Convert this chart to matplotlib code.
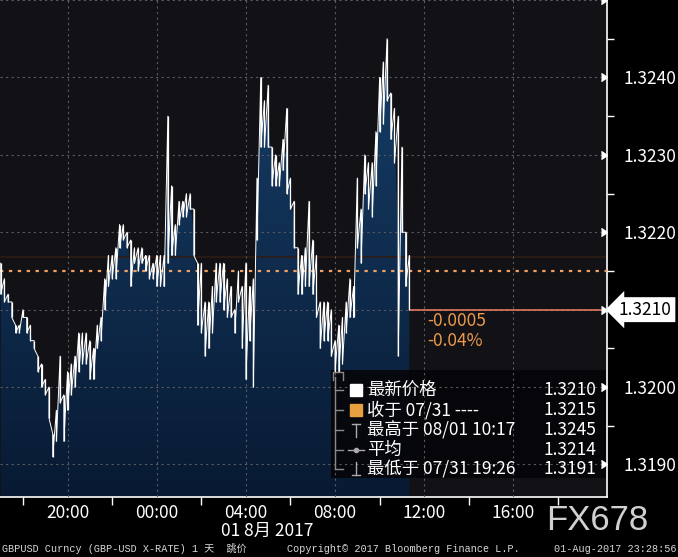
import numpy as np
import matplotlib.pyplot as plt
from matplotlib.colors import LinearSegmentedColormap
from matplotlib.patches import Rectangle, Polygon

plt.rcParams['font.family'] = ['Noto Sans CJK SC', 'DejaVu Sans']

# 10-minute high/low bins, hours relative to 2017-08-01 00:00, starting 07/31 17:00
start_hour = -7.0
bin_hours = 1 / 6

highs = [1.3216, 1.3214, 1.3212, 1.3211, 1.3208, 1.3208, 1.3210, 1.3209, 1.3208, 1.3206,
         1.3204, 1.3203, 1.3201, 1.3200, 1.3194, 1.3197, 1.3204, 1.3199, 1.3202, 1.3203,
         1.3204, 1.3207, 1.3207, 1.3207, 1.3206, 1.3205, 1.3208, 1.3209, 1.3214, 1.3217,
         1.3217, 1.3218, 1.3221, 1.3221, 1.3220, 1.3219, 1.3218, 1.3218, 1.3218, 1.3217,
         1.3217, 1.3216, 1.3217, 1.3217, 1.3217, 1.3235, 1.3226, 1.3221, 1.3224, 1.3224,
         1.3225, 1.3225, 1.3223, 1.3216, 1.3216, 1.3211, 1.3211, 1.3213, 1.3216, 1.3216,
         1.3216, 1.3214, 1.3213, 1.3210, 1.3215, 1.3213, 1.3216, 1.3213, 1.3214, 1.3227,
         1.3240, 1.3237, 1.3239, 1.3231, 1.3230, 1.3229, 1.3232, 1.3236, 1.3227, 1.3224,
         1.3218, 1.3217, 1.3218, 1.3224, 1.3219, 1.3217, 1.3211, 1.3211, 1.3211, 1.3210,
         1.3206, 1.3208, 1.3209, 1.3211, 1.3214, 1.3213, 1.3227, 1.3223, 1.3230, 1.3229,
         1.3229, 1.3233, 1.3240, 1.3242, 1.3245, 1.3238, 1.3236, 1.3235, 1.3231, 1.3220,
         1.3217]
lows = [1.3212, 1.3211, 1.3211, 1.3209, 1.3207, 1.3207, 1.3209, 1.3207, 1.3206, 1.3205,
        1.3202, 1.3200, 1.3199, 1.3196, 1.3191, 1.3193, 1.3198, 1.3193, 1.3197, 1.3199,
        1.3200, 1.3202, 1.3203, 1.3203, 1.3201, 1.3201, 1.3205, 1.3206, 1.3210, 1.3213,
        1.3214, 1.3214, 1.3218, 1.3219, 1.3218, 1.3213, 1.3216, 1.3215, 1.3216, 1.3215,
        1.3214, 1.3214, 1.3213, 1.3213, 1.3213, 1.3216, 1.3217, 1.3217, 1.3221, 1.3222,
        1.3222, 1.3223, 1.3217, 1.3208, 1.3207, 1.3204, 1.3205, 1.3207, 1.3211, 1.3211,
        1.3210, 1.3209, 1.3209, 1.3207, 1.3211, 1.3205, 1.3201, 1.3206, 1.3200, 1.3219,
        1.3231, 1.3231, 1.3231, 1.3226, 1.3226, 1.3226, 1.3228, 1.3225, 1.3223, 1.3218,
        1.3212, 1.3212, 1.3213, 1.3213, 1.3212, 1.3209, 1.3205, 1.3206, 1.3206, 1.3204,
        1.3202, 1.3202, 1.3203, 1.3207, 1.3209, 1.3209, 1.3218, 1.3216, 1.3225, 1.3223,
        1.3222, 1.3226, 1.3233, 1.3234, 1.3237, 1.3232, 1.3229, 1.3204, 1.3220, 1.3213,
        1.3210]

last_price = 1.3210
prev_close = 1.3215
avg_price = 1.3214
high_time = "08/01 10:17"
low_time = "07/31 19:26"

x_ticks = [-4, 0, 4, 8, 12, 16]
x_labels = ["20:00", "00:00", "04:00", "08:00", "12:00", "16:00"]
y_ticks = [1.3190, 1.3200, 1.3210, 1.3220, 1.3230, 1.3240]

times = start_hour + bin_hours * np.arange(len(highs))
hi = np.array(highs)
lo = np.array(lows)
mid = (hi + lo) / 2

xmin, xmax = -7.03, 20.2
ymin, ymax = 1.31858, 1.3250

fig = plt.figure(figsize=(6.78, 5.57), dpi=100, facecolor='black')
ax = fig.add_axes([0, 1 - 497 / 557, 607 / 678, 497 / 557])
ax.set_facecolor('#111116')

# overlay in pixel coordinates for the labels around the chart
ov = fig.add_axes([0, 0, 1, 1], zorder=10)
ov.set_xlim(0, 678)
ov.set_ylim(557, 0)
ov.axis('off')
ov.patch.set_alpha(0)

# gradient area under the price
cmap = LinearSegmentedColormap.from_list('fill', ['#081a33', '#17416c'])
grad = np.linspace(0, 1, 256).reshape(-1, 1)
im = ax.imshow(grad, extent=[xmin, xmax, ymin, ymax], origin='lower',
               aspect='auto', cmap=cmap, zorder=1)
verts = np.column_stack([np.r_[times[0], times, times[-1]],
                         np.r_[ymin, mid, ymin]])
area = Polygon(verts, closed=True, fc='none', ec='none')
ax.add_patch(area)
im.set_clip_path(area)

# high/low bars joined by a sawtooth so the trace reads as one noisy line
ax.vlines(times, lo, hi, color='white', lw=0.9, zorder=3)
zx = np.repeat(times, 2)
zy = np.column_stack([hi, lo]).ravel()
ax.plot(zx, zy, color='white', lw=0.7, zorder=3)

ax.axhline(1.32168, color='#2e1c14', lw=1.5, alpha=0.8, zorder=1.5)
ax.axhline(prev_close, color='#f0a060', ls=(0, (1.5, 2.5)), lw=1.6, zorder=2.6)
ax.hlines(last_price, times[-1], xmax, color='#e07a62', lw=1.2, zorder=2.6)

# legend box behind the grid
ax.add_patch(Rectangle((331, 370), 276, 108, transform=ov.transData,
                       fc='#060609', ec='none', alpha=0.92, zorder=2, clip_on=False))

ax.set_xlim(xmin, xmax)
ax.set_ylim(ymin, ymax)

ax.set_xticks(x_ticks)
ax.set_xticklabels(x_labels)
ax.set_xticks([-6, -2, 2, 6, 10, 14, 18], minor=True)
ax.yaxis.tick_right()
ax.set_yticks(y_ticks)
# the 1.3210 level is shown by the price flag instead
ax.set_yticklabels(['' if v == last_price else f'{v:.4f}' for v in y_ticks])
ax.set_yticks([1.3195, 1.3205, 1.3215, 1.3225, 1.3235, 1.3245], minor=True)
ax.tick_params(axis='x', which='major', length=0, pad=5, labelcolor='white', labelsize=12.5)
ax.tick_params(axis='x', which='minor', length=6, width=1, color='white', direction='out')
ax.tick_params(axis='y', which='major', length=0, pad=12, labelcolor='white', labelsize=12.5)
ax.tick_params(axis='y', which='minor', length=5, width=1, color='white', direction='out')

ax.set_axisbelow(False)
ax.grid(True, which='major', color='#5a5a62', ls=(0, (2, 3)), lw=0.8)
ax.axhline(ymax, color='#5a5a62', ls=(0, (2, 3)), lw=0.8, zorder=2.5)

for side in ['top', 'left']:
    ax.spines[side].set_visible(False)
for side in ['right', 'bottom']:
    ax.spines[side].set_color('white')
    ax.spines[side].set_linewidth(1.2)

carets = y_ticks + [1.3250]
ax.plot(np.ones(len(carets)), carets, transform=ax.get_yaxis_transform(),
        marker=5, ms=6, color='white', ls='none', clip_on=False, zorder=5)

# current price flag
ax.annotate(f'{last_price:.4f}', xy=(1, last_price), xycoords=ax.get_yaxis_transform(),
            xytext=(12, 0), textcoords='offset pixels', ha='left', va='center',
            fontsize=12.5, color='black', zorder=6, annotation_clip=False,
            bbox=dict(boxstyle='larrow,pad=0.2', fc='white', ec='none'))

change = last_price - prev_close
pct = change / prev_close * 100
ov.text(427, 321, f'{change:.4f}', color='#eb9a4c', fontsize=12.5, ha='left', va='center')
ov.text(427, 341, f'{pct:.2f}%', color='#eb9a4c', fontsize=12.5, ha='left', va='center')

# legend
gray = '#8a8a8a'
rows_y = [390, 410, 430, 450, 469]
ov.plot([335, 335], [377, 469], color=gray, lw=1)
ov.plot([333, 333, 343, 343], [380, 372, 372, 380], color=gray, lw=1)
for y in rows_y:
    ov.plot([335, 343], [y, y], color=gray, lw=1)
ov.plot([356], [390], marker='s', ms=8.5, color='white', ls='none')
ov.plot([356], [410], marker='s', ms=8.5, color='#e8a040', ls='none')
ov.plot([356, 356], [424, 437], color='#aaaaaa', lw=1)
ov.plot([352, 360], [424, 424], color='#aaaaaa', lw=1)
ov.plot([348, 364], [450, 450], color='#aaaaaa', lw=1)
ov.plot([356], [450], marker='o', ms=3, color='#aaaaaa')
ov.plot([356, 356], [462, 475], color='#aaaaaa', lw=1)
ov.plot([352, 360], [475, 475], color='#aaaaaa', lw=1)

labels = ['最新价格', '收于 07/31 ----', f'最高于 {high_time}', '平均', f'最低于 {low_time}']
values = [last_price, prev_close, hi.max(), avg_price, lo.min()]
for y, lab, val in zip(rows_y, labels, values):
    ov.text(367, y, lab, color='white', fontsize=12.5, ha='left', va='center')
    ov.text(596, y, f'{val:.4f}', color='white', fontsize=12.5, ha='right', va='center')

ov.text(267, 531, '01 8月 2017', color='white', fontsize=12.5, ha='center', va='center')
ov.text(597, 521, 'FX678', color='#d0d0d0', fontsize=25, ha='center', va='center',
        family='Liberation Sans')

mono = ['Liberation Mono', 'Noto Sans CJK SC']
ov.text(2, 549, 'GBPUSD Curncy (GBP-USD X-RATE) 1 天  跳价', color='#d8d8d8',
        fontsize=7.3, family=mono, ha='left', va='center')
ov.text(287, 549, 'Copyright© 2017 Bloomberg Finance L.P.', color='#d8d8d8',
        fontsize=7.3, family=mono, ha='left', va='center')
ov.text(676, 549, '01-Aug-2017 23:28:56', color='#d8d8d8',
        fontsize=7.3, family=mono, ha='right', va='center')

fig.savefig('out.png', dpi=100, facecolor='black')
